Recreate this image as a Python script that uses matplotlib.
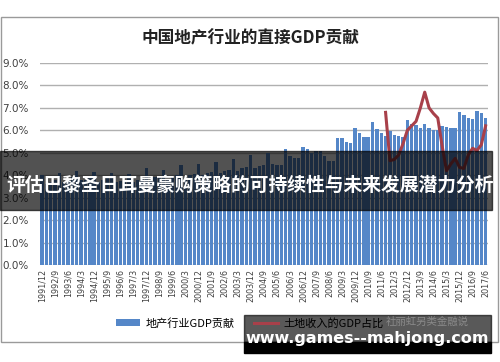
import matplotlib
matplotlib.use('Agg')
import matplotlib.pyplot as plt
from matplotlib.patches import Rectangle
from matplotlib.ticker import FuncFormatter

plt.rcParams['font.family'] = ['Noto Sans CJK SC', 'DejaVu Sans']

# 季度: 1991/12 - 2017/6
quarters = []
yr, mo = 1991, 12
for _ in range(103):
    quarters.append(f"{yr}/{mo}")
    mo += 3
    if mo > 12:
        mo = 3
        yr += 1

# 地产行业GDP贡献 (%)
gdp_share = [4.0,
             3.6, 3.7, 3.8, 4.1,
             3.7, 3.8, 3.9, 4.2,
             3.8, 3.8, 3.9, 4.15,
             3.7, 3.8, 3.9, 4.1,
             3.7, 3.75, 3.8, 4.05,
             3.7, 3.8, 3.85, 4.3,
             3.8, 3.9, 3.95, 4.25,
             3.85, 3.9, 4.0, 4.45,
             3.9, 4.0, 4.05, 4.5,
             4.0, 4.1, 4.15, 4.6,
             4.1, 4.2, 4.25, 4.7,
             4.2, 4.3, 4.35, 4.9,
             4.3, 4.4, 4.45, 4.97,
             4.5, 4.45, 4.45, 5.15,
             4.85, 4.75, 4.75, 5.27,
             5.15, 5.0, 5.1, 5.1,
             4.85, 4.65, 4.65, 5.65,
             5.65, 5.5, 5.45, 6.1,
             5.9, 5.7, 5.7, 6.35,
             6.05, 5.9, 5.75, 5.95,
             5.8, 5.75, 5.7, 6.45,
             6.3, 6.25, 6.1, 6.3,
             6.1, 6.0, 6.0, 6.2,
             6.15, 6.1, 6.1, 6.8,
             6.7, 6.55, 6.5, 6.87,
             6.75, 6.55]

# 土地收入的GDP占比 (%), 2011/9 - 2017/6
land_start = quarters.index("2011/9")
land_share = [6.8, 4.65, 4.7, 4.9, 5.4, 6.0, 6.2, 6.4, 7.0, 7.7, 7.0, 6.75,
              6.55, 5.3, 4.2, 4.5, 4.75, 4.35, 4.3, 4.9, 5.2, 5.1, 5.35, 6.2]

fig = plt.figure(figsize=(5, 3.62), dpi=100)
fig.patches.append(Rectangle((0.002, 1 - 342 / 362), 0.994, (342 - 17) / 362,
                             transform=fig.transFigure, fill=False,
                             edgecolor='#9a9a9a', lw=1))

ax = fig.add_axes([0.0796, 0.268, 0.896, 0.558])
x = list(range(len(gdp_share)))
bars = ax.bar(x, gdp_share, width=0.78, color='#5587c8', zorder=2,
              label='地产行业GDP贡献')
land_x = list(range(land_start, land_start + len(land_share)))
line, = ax.plot(land_x, land_share, color='#a8404a', lw=2.2, zorder=3,
                label='土地收入的GDP占比')

ax.set_xlim(-0.5, len(gdp_share) - 0.5)
ax.set_ylim(0, 9)
ax.set_yticks(range(0, 10))
ax.yaxis.set_major_formatter(FuncFormatter(lambda v, p: f"{v:.1f}%"))
ax.set_xticks(range(0, len(quarters), 3))
ax.set_xticklabels(quarters[::3], rotation=90, fontsize=5.8, color='#404040',
                   family='DejaVu Sans')
ax.tick_params(axis='y', labelsize=7.5, labelcolor='#404040', length=0, pad=8)
ax.tick_params(axis='x', length=0, pad=3)
for lbl in ax.get_yticklabels():
    lbl.set_family('DejaVu Sans')
ax.grid(axis='y', color='#b0b0b0', lw=1, zorder=0)
for s in ax.spines.values():
    s.set_visible(False)

fig.text(0.5, 1 - 38 / 362, '中国地产行业的直接GDP贡献', ha='center', va='center',
         fontsize=12, fontweight='bold', color='#222222')

fig.legend(handles=[bars, line], loc='center',
           bbox_to_anchor=(0.5, 1 - 323 / 362), ncol=2,
           frameon=False, fontsize=8, handlelength=2.1, columnspacing=1.8,
           handleheight=0.5, handletextpad=0.5)

# 覆盖的横幅与水印
fig.patches.append(Rectangle((0, 1 - 210 / 362), 0.984, 59 / 362,
                             transform=fig.transFigure, color='black',
                             alpha=0.68, zorder=5))
fig.text(0.5, 1 - 185 / 362, '评估巴黎圣日耳曼豪购策略的可持续性与未来发展潜力分析',
         ha='center', va='center', fontsize=13.5, fontweight='bold',
         color='white', zorder=6)
fig.patches.append(Rectangle((244 / 500, 1 - 342 / 362), 247 / 500, 27 / 362,
                             transform=fig.transFigure, color='black',
                             alpha=0.65, zorder=5))
fig.patches.append(Rectangle((244 / 500, 1 - 353 / 362), 247 / 500, 11 / 362,
                             transform=fig.transFigure, color='black', zorder=5))
fig.text(427 / 500, 1 - 322 / 362, '社丽虹另类金融说', ha='center', va='center',
         fontsize=7.5, color='#8a8a8a', zorder=6)
fig.text(367 / 500, 1 - 338 / 362, 'www.games--mahjong.com', ha='center',
         va='center', fontsize=11.5, fontweight='bold', color='white',
         family='DejaVu Sans', zorder=6)

fig.savefig('out.png', dpi=100)
